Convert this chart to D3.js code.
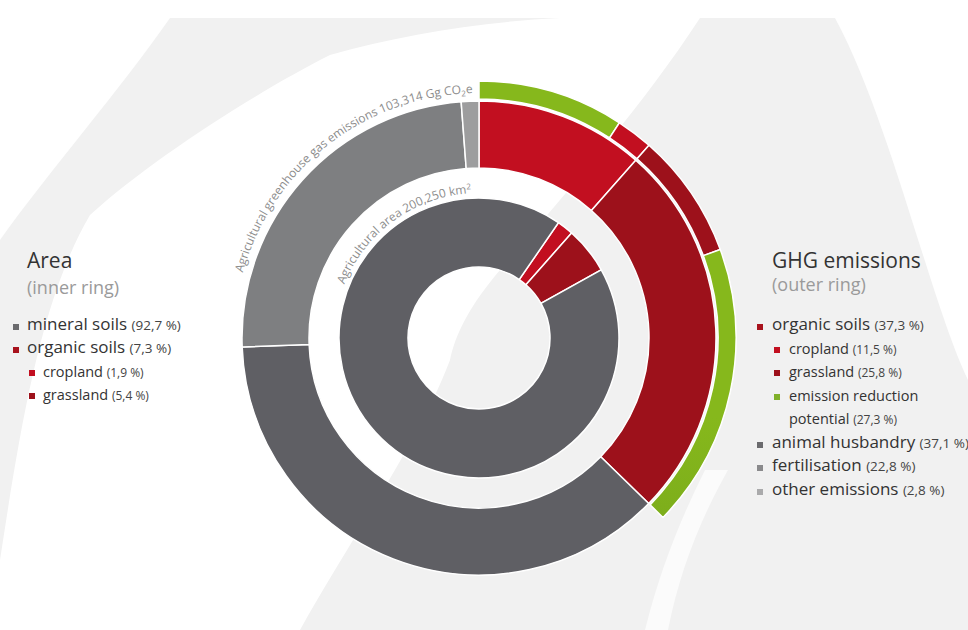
<!DOCTYPE html>
<html>
<head>
<meta charset="utf-8">
<script src="https://cdn.jsdelivr.net/npm/d3@7"></script>
<style>
  body { margin: 0; background: #fff; }
  svg { display: block; font-family: "Open Sans", sans-serif; }
</style>
</head>
<body>
<div id="chart"></div>
<script>
// inner ring: agricultural area
const innerLabels = ["cropland", "grassland", "mineral soils"];
const innerValues = [1.9, 5.4, 92.7];

// outer ring: GHG emissions (shares as drawn)
const outerLabels = ["cropland", "grassland", "animal husbandry", "fertilisation", "other emissions"];
const outerValues = [11.5, 25.8, 37.1, 24.4, 1.2];

// thin band over organic soils: reduction potential vs rest
const bandLabels = ["reduction", "cropland", "grassland", "reduction"];
const bandValues = [9.2, 2.3, 7.9, 17.9];

// legends
const areaLegend = ["mineral soils", "organic soils", "cropland", "grassland"];
const areaLegendPct = ["(92,7 %)", "(7,3 %)", "(1,9 %)", "(5,4 %)"];
const ghgLegend = ["organic soils", "cropland", "grassland", "emission reduction", "potential", "animal husbandry", "fertilisation", "other emissions"];
const ghgLegendPct = ["(37,3 %)", "(11,5 %)", "(25,8 %)", "", "(27,3 %)", "(37,1 %)", "(22,8 %)", "(2,8 %)"];

const width = 968, height = 630;
const cx = 479, cy = 338;

const color = {
  "mineral soils": "#5f5f64",
  "animal husbandry": "#5f5f64",
  "fertilisation": "#7e7f81",
  "other emissions": "#9d9d9e",
  "organic soils": "#a8121d",
  "cropland": "#c20f20",
  "grassland": "#9d111b",
  "reduction": "url(#green)"
};
const legendColor = Object.assign({}, color, {
  "mineral soils": "#6b6b6e", "animal husbandry": "#6b6b6e",
  "fertilisation": "#8a8a8c", "other emissions": "#aaaaab",
  "emission reduction": "#80b02a", "potential": null
});

const svg = d3.select("#chart").append("svg")
  .attr("width", width)
  .attr("height", height)
  .attr("viewBox", [0, 0, width, height]);

const defs = svg.append("defs");
const grad = defs.append("linearGradient")
  .attr("id", "green")
  .attr("gradientUnits", "userSpaceOnUse")
  .attr("x1", 0).attr("y1", 80).attr("x2", 0).attr("y2", 520);
grad.append("stop").attr("offset", 0).attr("stop-color", "#86b81c");
grad.append("stop").attr("offset", 1).attr("stop-color", "#5e8b18");

// background: light grey swooshes on white
const bg = svg.append("g");
bg.append("rect").attr("x", 0).attr("y", 18).attr("width", width).attr("height", height - 18)
  .attr("fill", "#f1f1f1");
// top-left corner outside the left swoosh
bg.append("path").attr("fill", "#fff")
  .attr("d", "M0,18 L170,18 C120,90 50,170 0,240 Z");
// gap between left swoosh and central swoosh
bg.append("path").attr("fill", "#fff")
  .attr("d", "M560,18 L700,18 C640,110 560,200 500,270 C470,305 455,335 450,360 " +
             "C420,440 350,540 300,630 L0,630 L0,560 C20,430 40,300 90,215 " +
             "C150,160 260,90 330,55 C400,35 480,22 560,18 Z");
// top-right corner
bg.append("path").attr("fill", "#fff")
  .attr("d", "M835,18 L968,18 L968,380 C930,300 890,120 835,18 Z");
// faint gap low right
bg.append("path").attr("fill", "#fff").attr("opacity", 0.7)
  .attr("d", "M705,470 C680,520 660,570 645,630 L668,630 C680,570 700,520 728,470 Z");

const g = svg.append("g").attr("transform", `translate(${cx},${cy})`);

const pie = d3.pie().sort(null).value(d => d);
const rad = Math.PI / 180;

// outer ring
const outerArc = d3.arc().innerRadius(170).outerRadius(237);
g.append("g")
  .attr("stroke", "#fff")
  .attr("stroke-width", 1.5)
  .selectAll("path")
  .data(pie(outerValues))
  .join("path")
  .attr("fill", (d, i) => color[outerLabels[i]])
  .attr("d", outerArc);

// band over organic soils
const bandPie = d3.pie().sort(null).value(d => d)
  .startAngle(0).endAngle(2 * Math.PI * d3.sum(bandValues) / 100);
const bandArc = d3.arc().innerRadius(239).outerRadius(257);
g.append("g")
  .attr("stroke", "#fff")
  .attr("stroke-width", 1.5)
  .selectAll("path")
  .data(bandPie(bandValues))
  .join("path")
  .attr("fill", (d, i) => color[bandLabels[i]])
  .attr("d", bandArc);

// inner ring, rotated so the cropland/grassland split lines up with the outer ring
const split = 2 * Math.PI * outerValues[0] / 100;
const innerStart = split - 2 * Math.PI * innerValues[0] / 100;
const innerPie = d3.pie().sort(null).value(d => d)
  .startAngle(innerStart).endAngle(innerStart + 2 * Math.PI);
const innerArc = d3.arc().innerRadius(71).outerRadius(140);
g.append("g")
  .attr("stroke", "#fff")
  .attr("stroke-width", 1.5)
  .selectAll("path")
  .data(innerPie(innerValues))
  .join("path")
  .attr("fill", (d, i) => color[innerLabels[i]])
  .attr("d", innerArc);

// curved labels (paths in the ring group's coordinates)
function arcPath(r, a0, a1) {
  const p = a => [r * Math.sin(a * rad), -r * Math.cos(a * rad)];
  const [x0, y0] = p(a0), [x1, y1] = p(a1);
  return `M${x0},${y0} A${r},${r} 0 0 1 ${x1},${y1}`;
}
defs.append("path").attr("id", "outerLabelPath").attr("d", arcPath(245, -100, -1.5));
defs.append("path").attr("id", "innerLabelPath").attr("d", arcPath(145, -100, -3));

const t1 = g.append("text")
  .attr("fill", "#8c8c8c")
  .attr("font-size", 12)
  .append("textPath")
  .attr("href", "#outerLabelPath")
  .attr("startOffset", "100%")
  .attr("text-anchor", "end");
t1.append("tspan").text("Agricultural greenhouse gas emissions 103,314 Gg CO");
t1.append("tspan").attr("font-size", 8).attr("dy", 3).text("2");
t1.append("tspan").attr("dy", -3).text("e");

const t2 = g.append("text")
  .attr("fill", "#8c8c8c")
  .attr("font-size", 12)
  .append("textPath")
  .attr("href", "#innerLabelPath")
  .attr("startOffset", "100%")
  .attr("text-anchor", "end");
t2.append("tspan").text("Agricultural area 200,250 km");
t2.append("tspan").attr("font-size", 8).attr("dy", -4).text("2");

// left legend
const left = svg.append("g").attr("transform", "translate(27,0)");
left.append("text").attr("x", 0).attr("y", 268)
  .attr("font-size", 21).attr("fill", "#333").text("Area");
left.append("text").attr("x", 0).attr("y", 294)
  .attr("font-size", 18).attr("fill", "#9a9a9a").text("(inner ring)");

const areaY = [330, 353, 377, 400];
areaLegend.forEach((name, i) => {
  const sub = i >= 2;
  const x = sub ? 16 : 0;
  left.append("rect")
    .attr("x", x - 14).attr("y", areaY[i] - (sub ? 7 : 6))
    .attr("width", 6).attr("height", 6)
    .attr("fill", legendColor[name]);
  const t = left.append("text").attr("x", x).attr("y", areaY[i]).attr("fill", "#333");
  t.append("tspan").attr("font-size", sub ? 14.5 : 17).text(name + " ");
  t.append("tspan").attr("font-size", sub ? 12 : 13.5).attr("fill", "#444").text(areaLegendPct[i]);
});

// right legend
const right = svg.append("g").attr("transform", "translate(772,0)");
right.append("text").attr("x", 0).attr("y", 268)
  .attr("font-size", 21).attr("fill", "#333").text("GHG emissions");
right.append("text").attr("x", 0).attr("y", 291)
  .attr("font-size", 18).attr("fill", "#9a9a9a").text("(outer ring)");

const ghgY = [330, 354, 377, 401, 424, 448, 471, 495];
const ghgSub = [false, true, true, true, true, false, false, false];
ghgLegend.forEach((name, i) => {
  const sub = ghgSub[i];
  const x = sub ? 17 : 0;
  if (legendColor[name]) {
    right.append("rect")
      .attr("x", x - 15).attr("y", ghgY[i] - (sub ? 7 : 6))
      .attr("width", 6).attr("height", 6)
      .attr("fill", legendColor[name]);
  }
  const t = right.append("text").attr("x", x).attr("y", ghgY[i]).attr("fill", "#333");
  t.append("tspan").attr("font-size", sub ? 14.5 : 17).text(name + (ghgLegendPct[i] ? " " : ""));
  t.append("tspan").attr("font-size", sub ? 12 : 13.5).attr("fill", "#444").text(ghgLegendPct[i]);
});
</script>
</body>
</html>
